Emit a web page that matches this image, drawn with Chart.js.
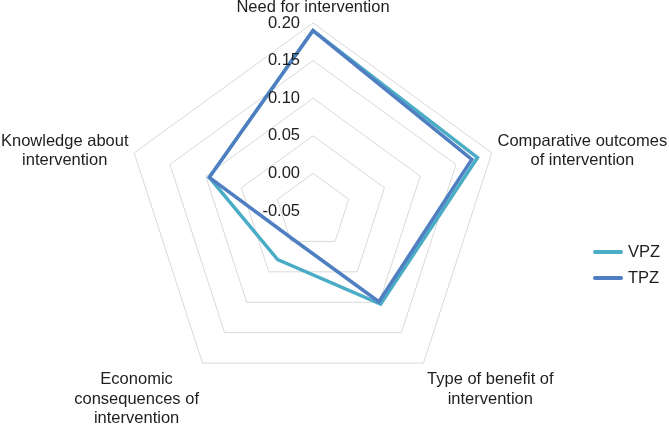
<!DOCTYPE html>
<html lang="en">
<head>
<meta charset="UTF-8">
<title>VPZ vs TPZ</title>
<style>
    html, body { margin: 0; padding: 0; background: #fff; }
    canvas { display: block; }
</style>
</head>
<body>
<canvas id="radarChart" width="669" height="425"></canvas>
<script src="https://cdn.jsdelivr.net/npm/chart.js"></script>
<script>
const categories = [
    ['Need for intervention'],
    ['Comparative outcomes', 'of intervention'],
    ['Type of benefit of', 'intervention'],
    ['Economic', 'consequences of', 'intervention'],
    ['Knowledge about', 'intervention']
];
const vpzValues = [0.19, 0.18, 0.103, 0.03, 0.095];
const tpzValues = [0.19, 0.172, 0.099, -0.004, 0.095];
const tickValues = [-0.05, 0.00, 0.05, 0.10, 0.15, 0.20];
const tickLabels = ['-0.05', '0.00', '0.05', '0.10', '0.15', '0.20'];
const seriesNames = ['VPZ', 'TPZ'];
const seriesColors = ['#4bacc6', '#4f7fc0'];

const FONT = '16.5px "Liberation Sans", Arial, sans-serif';
const TEXT_COLOR = '#1e1e1e';

// axis labels, tick labels and legend drawn by hand so they sit like the original
const textPlugin = {
    id: 'radarText',
    afterDatasetsDraw(chart) {
        const ctx = chart.ctx;
        const r = chart.scales.r;
        ctx.save();
        ctx.font = FONT;
        ctx.fillStyle = TEXT_COLOR;

        ctx.textAlign = 'right';
        ctx.textBaseline = 'middle';
        tickValues.forEach((v, i) => {
            const y = r.yCenter - r.getDistanceFromCenterForValue(v);
            ctx.fillText(tickLabels[i], r.xCenter - 13, y);
        });

        const lineH = 19.5;
        categories.forEach((lines, i) => {
            const angle = r.getIndexAngle(i);
            const p = r.getPointPosition(i, r.drawingArea + 6);
            const sin = Math.sin(angle), cos = Math.cos(angle);
            const h = lines.length * lineH;
            let top;
            if (cos > 0.9) top = p.y - h;
            else if (cos > 0) top = p.y - h / 2;
            else top = p.y + 2;
            const w = Math.max(...lines.map(t => ctx.measureText(t).width));
            let left;
            if (Math.abs(sin) < 0.1) left = p.x - w / 2;
            else if (sin > 0) left = p.x;
            else left = p.x - w;
            ctx.textAlign = 'center';
            ctx.textBaseline = 'middle';
            lines.forEach((t, k) => ctx.fillText(t, left + w / 2, top + lineH * (k + 0.5)));
        });

        seriesNames.forEach((name, i) => {
            const y = 252 + i * 26;
            ctx.strokeStyle = seriesColors[i];
            ctx.lineWidth = 4;
            ctx.lineCap = 'round';
            ctx.beginPath();
            ctx.moveTo(595, y);
            ctx.lineTo(621, y);
            ctx.stroke();
            ctx.textAlign = 'left';
            ctx.fillText(name, 628, y);
        });
        ctx.restore();
    }
};

const ctx = document.getElementById('radarChart').getContext('2d');
const radarChart = new Chart(ctx, {
    type: 'radar',
    data: {
        labels: categories,
        datasets: [
            {
                label: seriesNames[0],
                data: vpzValues,
                borderColor: seriesColors[0],
                backgroundColor: 'transparent',
                borderWidth: 3.5,
                fill: false,
                order: 1
            },
            {
                label: seriesNames[1],
                data: tpzValues,
                borderColor: seriesColors[1],
                backgroundColor: 'transparent',
                borderWidth: 3.5,
                fill: false,
                order: 0
            }
        ]
    },
    options: {
        responsive: false,
        animation: false,
        layout: { padding: { left: 125, right: 168, top: 23, bottom: 26 } },
        elements: {
            point: { radius: 0, hoverRadius: 0 },
            line: { tension: 0 }
        },
        plugins: {
            legend: { display: false },
            tooltip: { enabled: false }
        },
        scales: {
            r: {
                min: tickValues[0],
                max: tickValues[tickValues.length - 1],
                angleLines: { display: false },
                grid: {
                    color: c => c.index === 0 ? 'rgba(0,0,0,0)' : '#d9d9d9',
                    lineWidth: 1
                },
                ticks: { display: false, stepSize: 0.05 },
                pointLabels: { display: false },
                afterBuildTicks: scale => {
                    scale.ticks = tickValues.map(v => ({ value: v }));
                }
            }
        }
    },
    plugins: [textPlugin]
});
</script>
</body>
</html>
